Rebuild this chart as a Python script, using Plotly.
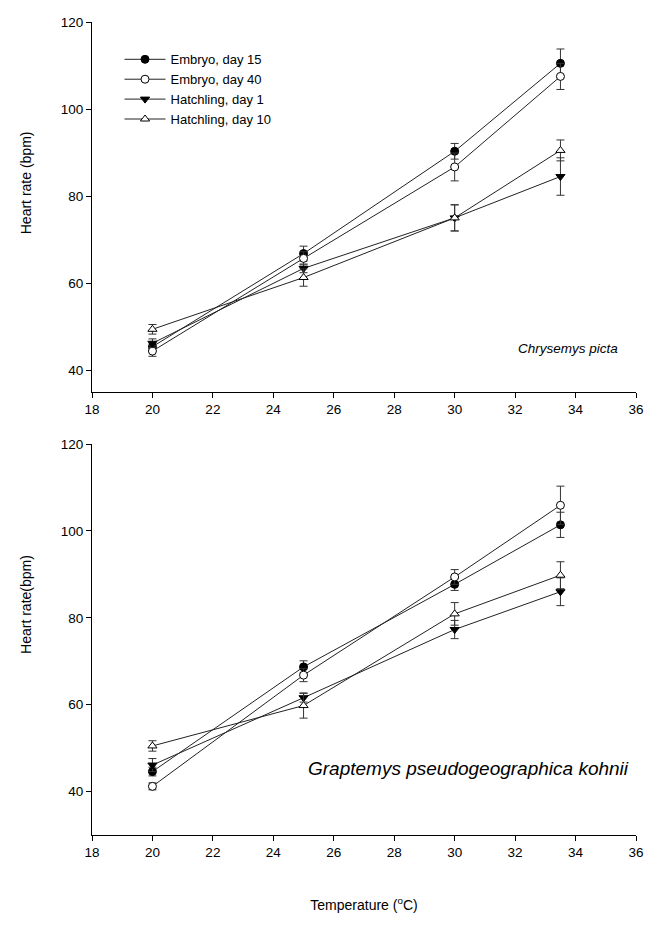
import plotly.graph_objects as go

temps = [20, 25, 30, 33.5]
series_names = ["Embryo, day 15", "Embryo, day 40", "Hatchling, day 1", "Hatchling, day 10"]

# Chrysemys picta (top panel)
cp_embryo15 = [45.4, 66.8, 90.3, 110.5]
cp_embryo15_se = [0.8, 1.7, 1.8, 3.3]
cp_embryo40 = [44.4, 65.7, 86.7, 107.5]
cp_embryo40_se = [1.2, 1.5, 3.2, 3.0]
cp_hatch1 = [46.2, 63.4, 75.0, 84.5]
cp_hatch1_se = [1.0, 1.0, 3.0, 4.3]
cp_hatch10 = [49.4, 61.3, 75.0, 90.5]
cp_hatch10_se = [1.1, 2.0, 3.0, 2.4]

# Graptemys pseudogeographica kohnii (bottom panel)
gp_embryo15 = [44.6, 68.7, 87.7, 101.4]
gp_embryo15_se = [1.0, 1.4, 1.4, 2.9]
gp_embryo40 = [41.2, 66.8, 89.4, 105.9]
gp_embryo40_se = [0.8, 1.5, 1.7, 4.4]
gp_hatch1 = [46.1, 61.6, 77.3, 86.0]
gp_hatch1_se = [1.5, 1.0, 2.1, 3.2]
gp_hatch10 = [50.5, 59.8, 80.9, 89.8]
gp_hatch10_se = [1.2, 2.9, 2.6, 3.1]

x_ticks = list(range(18, 37, 2))
y_ticks = [40, 60, 80, 100, 120]

styles = [
    dict(symbol="circle", color="black"),
    dict(symbol="circle", color="white"),
    dict(symbol="triangle-down", color="black"),
    dict(symbol="triangle-up", color="white"),
]

fig = go.Figure()

panels = [
    ("x", "y", [cp_embryo15, cp_embryo40, cp_hatch1, cp_hatch10],
        [cp_embryo15_se, cp_embryo40_se, cp_hatch1_se, cp_hatch10_se], True),
    ("x2", "y2", [gp_embryo15, gp_embryo40, gp_hatch1, gp_hatch10],
        [gp_embryo15_se, gp_embryo40_se, gp_hatch1_se, gp_hatch10_se], False),
]

for xa, ya, means, ses, show in panels:
    for name, m, se, st in zip(series_names, means, ses, styles):
        fig.add_trace(go.Scatter(
            x=temps, y=m, name=name, mode="lines+markers",
            xaxis=xa, yaxis=ya, showlegend=show,
            line=dict(color="#222222", width=1),
            marker=dict(symbol=st["symbol"], size=8, color=st["color"],
                        line=dict(color="black", width=1)),
            error_y=dict(type="data", array=se, visible=True,
                         color="#333333", thickness=1, width=4),
        ))

FONT = "Liberation Sans, Arial, sans-serif"
axis_font = dict(family=FONT, size=13.5, color="black")
common_x = dict(range=[18, 36], tickvals=x_ticks, showline=True, linecolor="black",
                linewidth=1, ticks="outside", ticklen=5, tickcolor="black",
                showgrid=False, zeroline=False, tickfont=axis_font)
common_y = dict(tickvals=y_ticks, showline=True, linecolor="black",
                linewidth=1, ticks="outside", ticklen=5, tickcolor="black",
                showgrid=False, zeroline=False, tickfont=axis_font)

title_font = dict(family=FONT, size=14, color="black")

fig.update_layout(
    xaxis=dict(common_x, anchor="y"),
    yaxis=dict(common_y, range=[35, 120], domain=[0.5449, 1.0], anchor="x"),
    xaxis2=dict(common_x, anchor="y2",
                title=dict(text="Temperature (<sup>o</sup>C)", font=title_font, standoff=40)),
    yaxis2=dict(common_y, range=[30, 120], domain=[0.0, 0.4809], anchor="x2"),
)

fig.add_annotation(x=-0.121, y=83, xref="paper", yref="y", text="Heart rate (bpm)",
                   textangle=-90, showarrow=False, xanchor="center", yanchor="middle",
                   font=title_font)
fig.add_annotation(x=-0.121, y=83, xref="paper", yref="y2", text="Heart rate(bpm)",
                   textangle=-90, showarrow=False, xanchor="center", yanchor="middle",
                   font=title_font)

fig.add_annotation(x=35.48, y=45.0, xref="x", yref="y", text="<i>Chrysemys picta</i>",
                   showarrow=False, xanchor="right", yanchor="middle",
                   font=dict(family=FONT, size=13.5, color="black"))
fig.add_annotation(x=35.85, y=45.3, xref="x2", yref="y2",
                   text="<i>Graptemys pseudogeographica kohnii</i>",
                   showarrow=False, xanchor="right", yanchor="middle",
                   font=dict(family=FONT, size=19, color="black"))

fig.update_layout(
    width=655, height=935,
    margin=dict(l=92, r=11, t=22, b=100),
    paper_bgcolor="white", plot_bgcolor="white",
    font=dict(family=FONT, color="black"),
    legend=dict(x=0.0506, y=0.9725, xanchor="left", yanchor="top", itemwidth=41,
                bgcolor="rgba(0,0,0,0)", font=dict(size=13), tracegroupgap=0),
)

fig.write_html("out.html", config={"displayModeBar": False},
               post_script="document.body.style.margin='0';")
